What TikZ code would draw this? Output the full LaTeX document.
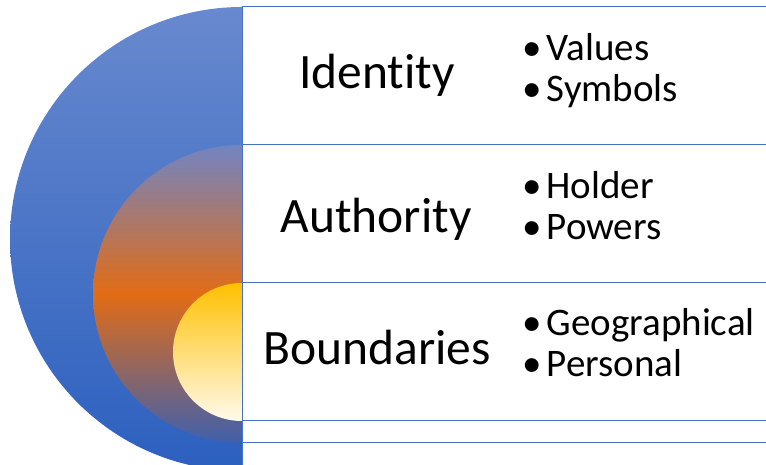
\documentclass[tikz,border=0pt]{standalone}
\usepackage{fontspec}
\setmainfont{Carlito}[Ligatures=NoCommon]
\usetikzlibrary{calc}
\definecolor{rowline}{RGB}{68,114,196}
\definecolor{outertop}{RGB}{104,137,206}
\definecolor{outerbot}{RGB}{44,96,191}
\definecolor{midtop}{RGB}{114,132,194}
\definecolor{midorange}{RGB}{226,108,22}
\definecolor{midbot}{RGB}{64,96,172}
\definecolor{innertop}{RGB}{255,192,0}
\definecolor{innerbot}{RGB}{255,250,236}
\pgfdeclareverticalshading{midshade}{100bp}{color(0bp)=(midbot); color(25bp)=(midbot); color(50bp)=(midorange); color(75bp)=(midtop); color(100bp)=(midtop)}

\begin{document}
\begin{tikzpicture}[x=1pt,y=1pt,
    rowline/.style={draw=rowline,line width=1pt},
    title/.style={anchor=base,inner sep=0pt,font=\fontsize{49.5}{56}\selectfont},
    item/.style={anchor=base west,inner sep=0pt,font=\fontsize{39}{44}\selectfont}]
  \useasboundingbox (0,0) rectangle (766,465);
  \clip (0,0) rectangle (766,465);

  % half discs
  \coordinate (outer) at (242,226);
  \coordinate (mid)   at (242,171);
  \coordinate (inner) at (242,113);
  \shade[top color=outertop,bottom color=outerbot]
    ($(outer)+(0,232)$) arc[start angle=90,end angle=270,radius=232] -- cycle;
  \shade[shading=midshade]
    ($(mid)+(0,149)$) arc[start angle=90,end angle=270,radius=149] -- cycle;
  \shade[top color=innertop,bottom color=innerbot]
    ($(inner)+(0,69)$) arc[start angle=90,end angle=270,radius=69] -- cycle;

  % rows
  \coordinate (top) at (242,458);
  \coordinate (bot) at (242,0);
  \draw[rowline] (top) -- (bot);
  \foreach \y in {458,320,182,44,22}
    \draw[rowline] (242,\y) -- (766,\y);

  % labels
  \node[title] (identity)   at (377,376) {Identity};
  \node[title] (authority)  at (376,232) {Authority};
  \node[title] (boundaries) at (377,100) {Boundaries};

  \node[item] (values)  at (522,404) {\textbullet\hspace{5pt}Values};
  \node[item] (symbols) at (522,363) {\textbullet\hspace{5pt}Symbols};
  \node[item] (holder)  at (522,266) {\textbullet\hspace{5pt}Holder};
  \node[item] (powers)  at (522,225) {\textbullet\hspace{5pt}Powers};
  \node[item] (geo)     at (522,129) {\textbullet\hspace{5pt}Geographical};
  \node[item] (personal) at (522,88) {\textbullet\hspace{5pt}Personal};
\end{tikzpicture}
\end{document}
